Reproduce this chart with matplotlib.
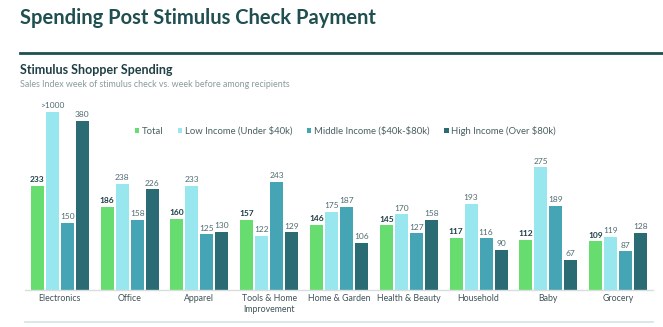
import numpy as np
import matplotlib.pyplot as plt

plt.rcParams['font.family'] = ['Lato', 'DejaVu Sans']

categories = ['Electronics', 'Office', 'Apparel', 'Tools & Home\nImprovement', 'Home & Garden',
              'Health & Beauty', 'Household', 'Baby', 'Grocery']
total = [233, 186, 160, 157, 146, 145, 117, 112, 109]
low_income = [1000, 238, 233, 122, 175, 170, 193, 275, 119]
middle_income = [150, 158, 125, 243, 187, 127, 116, 189, 87]
high_income = [380, 226, 130, 129, 106, 158, 90, 67, 128]

series_names = ['Total', r'Low Income (Under \$40k)', r'Middle Income (\$40k-\$80k)', r'High Income (Over \$80k)']
colors = ['#66dd6e', '#98e7ef', '#45a5b5', '#2b6b74']
cap = 400  # bars above this are cut off, label shows ">1000"

fig = plt.figure(figsize=(6.63, 3.27), dpi=100)
W, H = 663, 327
ax = fig.add_axes([25 / W, (H - 290) / H, 628 / W, 190 / H])

x = np.arange(len(categories))
width = 0.186
pitch = 0.215
series = [total, low_income, middle_income, high_income]
for i, (vals, name, c) in enumerate(zip(series, series_names, colors)):
    pos = x + (i - 1.5) * pitch
    shown = [min(v, cap) for v in vals]
    ax.bar(pos, shown, width, color=c, label=name)
    for p, v, s in zip(pos, vals, shown):
        txt = '>1000' if v > cap else str(v)
        ax.text(p, s + 6, txt, ha='center', va='bottom', fontsize=6,
                fontweight='bold' if i == 0 else 'normal',
                color='#1f3f44' if i == 0 else '#4f6b70')

ax.set_xlim(-0.5, len(categories) - 0.5)
ax.set_ylim(0, 426)
ax.set_xticks(x)
ax.set_xticklabels(categories, fontsize=6.3, color='#3f5358', linespacing=1.3)
ax.tick_params(axis='x', length=0, pad=3)
ax.set_yticks([])
for s in ['top', 'right', 'left']:
    ax.spines[s].set_visible(False)
ax.spines['bottom'].set_color('#d8dede')
ax.spines['bottom'].set_linewidth(1)

leg = ax.legend(ncol=4, frameon=False, fontsize=6.8, handlelength=0.45, handleheight=0.45,
                handletextpad=0.25, columnspacing=1.6, loc='upper left',
                bbox_to_anchor=((131 - 25) / 628, 1 - (122 - 100) / 190), borderaxespad=0)
for t in leg.get_texts():
    t.set_color('#4a5f63')

fig.text(20 / W, 1 - 18 / H, 'Spending Post Stimulus Check Payment', fontsize=14.5, fontweight='bold',
         color='#1f4f50', va='center', ha='left')
fig.add_artist(plt.Line2D([20 / W, 1], [1 - 53 / H] * 2, color='#1f4f50', linewidth=2))
fig.text(20 / W, 1 - 70 / H, 'Stimulus Shopper Spending', fontsize=9, fontweight='bold',
         color='#1f3f44', va='center', ha='left')
fig.text(20 / W, 1 - 85 / H, 'Sales Index week of stimulus check vs. week before among recipients',
         fontsize=6.4, color='#8a9a9d', va='center', ha='left')
fig.add_artist(plt.Line2D([25 / W, 653 / W], [1 - 322 / H] * 2, color='#d5e3e5', linewidth=1.2))

fig.savefig('out.png', dpi=100)
